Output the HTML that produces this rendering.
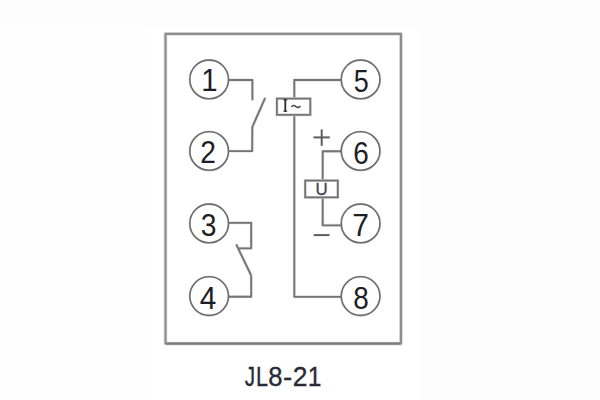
<!DOCTYPE html>
<html><head><meta charset="utf-8"><title>JL8-21</title>
<style>
html,body{margin:0;padding:0;background:#fdfdfd;}
body{width:600px;height:400px;overflow:hidden;}
svg{display:block;}
text{font-family:"Liberation Sans",sans-serif;}
</style></head>
<body>
<svg width="600" height="400" viewBox="0 0 600 400">
<rect x="0" y="0" width="600" height="400" fill="#fdfdfd"/>
<rect x="0" y="28" width="147" height="372" fill="#fefefe"/>
<rect x="147" y="28" width="272" height="372" fill="#fff"/>
<!-- outer frame (soft edge + core) -->
<rect x="165.5" y="33.8" width="235.45" height="309.8" fill="none" stroke="#e0e0e0" stroke-width="3.8" stroke-linejoin="round"/>
<rect x="165.5" y="33.8" width="235.45" height="309.8" fill="none" stroke="#8e8e8e" stroke-width="2.2" stroke-linejoin="round"/>
<line x1="166.5" y1="343.6" x2="400" y2="343.6" stroke="#7c7c7c" stroke-width="2"/>
<!-- circle soft edge -->
<g fill="none" stroke="#dcdcdc" stroke-width="2.6">
  <circle cx="209.15" cy="79.45" r="19.3"/>
  <circle cx="209.15" cy="151" r="19.3"/>
  <circle cx="209.15" cy="223.45" r="19.3"/>
  <circle cx="209.15" cy="296.1" r="19.3"/>
  <circle cx="360.6" cy="79.45" r="19.3"/>
  <circle cx="360.6" cy="151" r="19.3"/>
  <circle cx="360.6" cy="223.45" r="19.3"/>
  <circle cx="360.6" cy="296.1" r="19.3"/>
</g>
<!-- wires -->
<g fill="none" stroke="#dcdcdc" stroke-width="2.9" stroke-linejoin="round">
  <path d="M228.5,80 H252.4 V100.2"/>
  <path d="M265.2,97.8 L252.3,127"/>
  <path d="M252.3,126.8 L252.2,151.1 H228.5"/>
  <path d="M228.5,222.8 H251.2 V248.3 H238.6"/>
  <path d="M236.2,244.3 L251.2,275.5"/>
  <path d="M251.2,275.5 V296.7 H228.5"/>
  <path d="M341.3,80 H294.3 V296.8 H341.3"/>
  <path d="M341.3,151.2 H322.7 V225.3 H341.3"/>
</g>
<g fill="none" stroke="#747474" stroke-width="1.85" stroke-linejoin="round">
  <path d="M228.5,80 H252.4 V100.2"/>
  <path d="M265.2,97.8 L252.3,127"/>
  <path d="M252.3,126.8 L252.2,151.1 H228.5"/>
  <path d="M228.5,222.8 H251.2 V248.3 H238.6"/>
  <path d="M236.2,244.3 L251.2,275.5"/>
  <path d="M251.2,275.5 V296.7 H228.5"/>
  <path d="M341.3,80 H294.3 V296.8 H341.3"/>
  <path d="M341.3,151.2 H322.7 V225.3 H341.3"/>
</g>
<!-- boxes -->
<g fill="#fff" stroke="#d8d8d8" stroke-width="2.8">
  <rect x="276.9" y="98.6" width="33.4" height="16.25"/>
  <rect x="305.2" y="180.55" width="32.6" height="16.8"/>
</g>
<g fill="none" stroke="#767676" stroke-width="1.8">
  <rect x="276.9" y="98.6" width="33.4" height="16.25"/>
  <rect x="305.2" y="180.55" width="32.6" height="16.8" stroke="#727272"/>
</g>
<!-- circles -->
<g fill="#fff" stroke="#6c6c6c" stroke-width="1.6">
  <circle cx="209.15" cy="79.45" r="19.3"/>
  <circle cx="209.15" cy="151" r="19.3"/>
  <circle cx="209.15" cy="223.45" r="19.3"/>
  <circle cx="209.15" cy="296.1" r="19.3"/>
  <circle cx="360.6" cy="79.45" r="19.3"/>
  <circle cx="360.6" cy="151" r="19.3"/>
  <circle cx="360.6" cy="223.45" r="19.3"/>
  <circle cx="360.6" cy="296.1" r="19.3"/>
</g>
<!-- plus / minus -->
<g stroke="#5c5c5c" stroke-width="2">
  <line x1="313.4" y1="137.4" x2="329.8" y2="137.4"/>
  <line x1="321.7" y1="129.4" x2="321.7" y2="145.8"/>
  <line x1="313.7" y1="235.1" x2="329.5" y2="235.1"/>
</g>
<!-- digits -->
<g fill="#1e1e24" font-size="31" text-anchor="middle">
  <text transform="translate(209.95,91.4) scale(0.95,1)" x="-0.42">1</text>
  <text transform="translate(207.97,163.2) scale(0.91,1)" x="-0.00">2</text>
  <text transform="translate(208.5,236.0) scale(0.91,1)" x="0.09">3</text>
  <text transform="translate(207.8,309.2) scale(0.96,1)" x="0.10">4</text>
  <text transform="translate(361.2,91.6) scale(0.87,1)" x="0.03">5</text>
  <text transform="translate(361.05,163.6) scale(0.9,1)" x="-0.11">6</text>
  <text transform="translate(360.5,236.2) scale(0.97,1)" x="-0.02">7</text>
  <text transform="translate(361.05,309.3) scale(0.9,1)" x="-0.00">8</text>
</g>
<!-- label -->
<g fill="#2a2a36" stroke="#2a2a36" stroke-width="0.35" font-size="27.6" text-anchor="middle">
  <text transform="translate(249.3,385.5) scale(0.75,1)" x="0.81">J</text>
  <text transform="translate(262.6,385.5) scale(0.78,1)" x="-0.67">L</text>
  <text transform="translate(275.4,385.5) scale(0.93,1)" x="0.00">8</text>
  <text transform="translate(287.5,385.5) scale(1.0,1)" x="0.00">-</text>
  <text transform="translate(300.0,385.5) scale(0.96,1)" x="0.00">2</text>
  <text transform="translate(315.0,385.5) scale(0.89,1)" x="-0.38">1</text>
</g>
<!-- I~ -->
<g fill="#2a2a2a">
  <rect x="284.4" y="99.2" width="1.8" height="12.4"/>
  <rect x="283.4" y="99.2" width="3.8" height="1.2"/>
  <rect x="283.4" y="110.5" width="3.8" height="1.2"/>
</g>
<path d="M291.6,107 C292.6,105 294.4,105.2 296,106.6 C297.6,107.9 299.2,107.6 300.4,106" fill="none" stroke="#4a4a58" stroke-width="1.6"/>
<text transform="translate(321.55,194.6) scale(1.08,1)" fill="#464656" stroke="#464656" stroke-width="0.3" font-size="15.6" text-anchor="middle">U</text>
</svg>
</body></html>
